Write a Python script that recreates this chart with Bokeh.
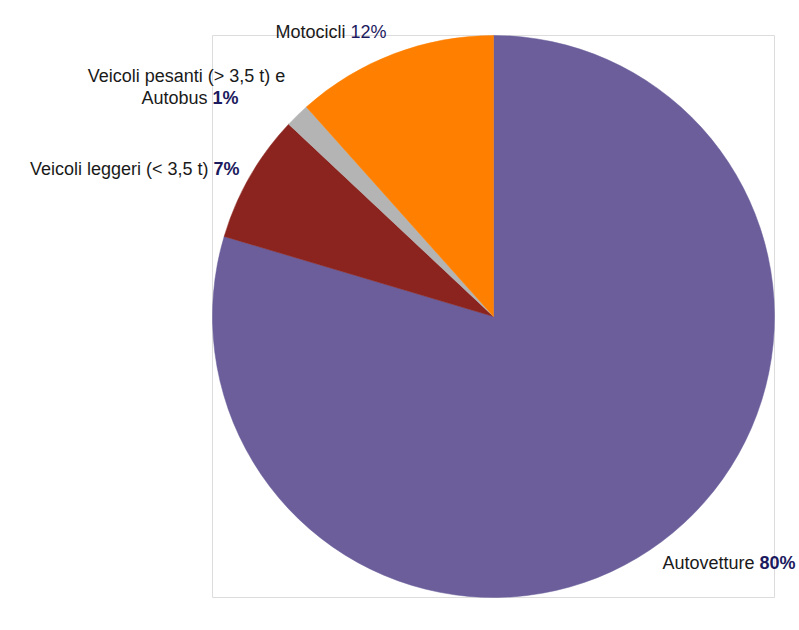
import math
from bokeh.plotting import figure
from bokeh.models import Range1d, ColumnDataSource
from bokeh.core.properties import value
from bokeh.embed import file_html
from bokeh.resources import INLINE

# ---- data (clockwise from 12 o'clock) ----
categories = ["Autovetture", "Veicoli leggeri (< 3,5 t)", "Veicoli pesanti (> 3,5 t) e\nAutobus", "Motocicli"]
shares = [79.6, 7.4, 1.4, 11.6]
pct_labels = ["80%", "7%", "1%", "12%"]
colors = ["#6B5E9B", "#8B241E", "#B4B4B4", "#FF8000"]

# ---- layout (pixel coordinates, y measured from top) ----
W, H = 799, 630
CX, CY, R = 493, 316, 281
label_pos = [(759, 562), (213, 168), (212, 97), (350, 31)]   # left edge of % text
pct_bold = ["bold", "bold", "bold", "normal"]
FONT = "Liberation Sans"
FS = "18px"

p = figure(width=W, height=H, output_backend="svg", toolbar_location=None,
           x_range=Range1d(0, W), y_range=Range1d(0, H),
           x_axis_location=None, y_axis_location=None, min_border=0)
p.grid.visible = False
p.outline_line_color = None
p.background_fill_color = "white"

# frame box
p.quad(left=[CX - R], right=[CX + R], bottom=[H - (CY + R)], top=[H - (CY - R)],
       fill_color=None, line_color="#DCDCDC", line_width=1)

# wedges
total = sum(shares)
starts, ends = [], []
cum = 0.0
for s in shares:
    starts.append(math.pi / 2 - 2 * math.pi * cum / total)
    cum += s
    ends.append(math.pi / 2 - 2 * math.pi * cum / total)
src = ColumnDataSource(dict(x=[CX] * 4, y=[H - CY] * 4, start=starts, end=ends, color=colors))
p.wedge(x="x", y="y", radius=R, start_angle="start", end_angle="end", direction="clock",
        fill_color="color", line_color="color", line_width=0.5, source=src)

# labels
for cat, pct, (lx, ly), bw in zip(categories, pct_labels, label_pos, pct_bold):
    lines = cat.split("\n")
    if len(lines) == 2:
        # two-line centered label; second line carries percentage
        line1, line2 = lines
        cxl = 186
        p.text(x=[cxl], y=[H - (ly - 22)], text=[line1], text_align="center", text_baseline="middle",
               text_font=value(FONT), text_font_size=FS, text_color="#1A1A1A")
        p.text(x=[lx - 5], y=[H - ly], text=[line2], text_align="right", text_baseline="middle",
               text_font=value(FONT), text_font_size=FS, text_color="#1A1A1A")
    else:
        p.text(x=[lx - 5], y=[H - ly], text=[cat], text_align="right", text_baseline="middle",
               text_font=value(FONT), text_font_size=FS, text_color="#1A1A1A")
    p.text(x=[lx], y=[H - ly], text=[pct], text_align="left", text_baseline="middle",
           text_font=value(FONT), text_font_size=FS, text_color="#1C1A5E", text_font_style=bw)

open("out.html", "w").write(file_html(p, INLINE))
